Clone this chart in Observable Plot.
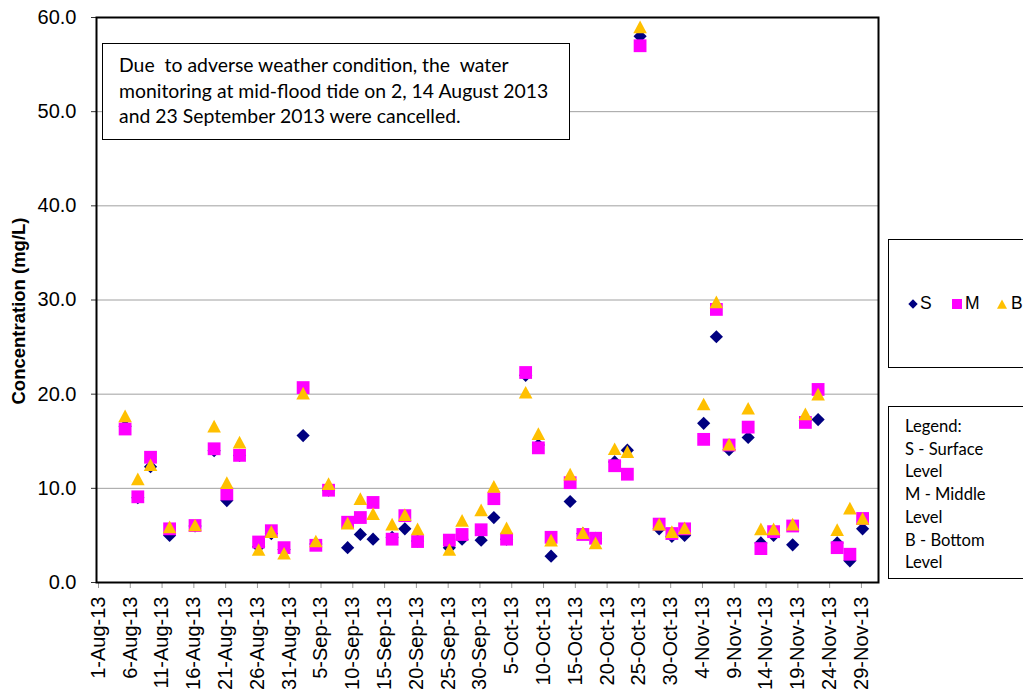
<!DOCTYPE html>
<html>
<head>
<meta charset="utf-8">
<script src="https://cdn.jsdelivr.net/npm/d3@7"></script>
<script src="https://cdn.jsdelivr.net/npm/@observablehq/plot@0.6"></script>
<style>
  html, body { margin: 0; padding: 0; background: #fff; }
  #wrap { position: relative; width: 1023px; height: 698px; overflow: hidden; background: #fff; }
  .box { position: absolute; background: #fff; border: 1.5px solid #000; box-sizing: border-box; }
  .note { font-family: Lato, "Open Sans", sans-serif; font-size: 19.4px; line-height: 25.5px; color: #000; white-space: pre; }
  .leg { position: absolute; font-family: "Liberation Sans", Arial, sans-serif; font-size: 17.5px; color: #000; }
</style>
</head>
<body>
<div id="wrap"></div>
<script>
// ---- data ----
const dates = ["2013-08-05","2013-08-07","2013-08-09","2013-08-12","2013-08-16","2013-08-19","2013-08-21","2013-08-23","2013-08-26","2013-08-28","2013-08-30",
  "2013-09-02","2013-09-04","2013-09-06","2013-09-09","2013-09-11","2013-09-13","2013-09-16","2013-09-18","2013-09-20","2013-09-25","2013-09-27","2013-09-30",
  "2013-10-02","2013-10-04","2013-10-07","2013-10-09","2013-10-11","2013-10-14","2013-10-16","2013-10-18","2013-10-21","2013-10-23","2013-10-25","2013-10-28","2013-10-30",
  "2013-11-01","2013-11-04","2013-11-06","2013-11-08","2013-11-11","2013-11-13","2013-11-15","2013-11-18","2013-11-20","2013-11-22","2013-11-25","2013-11-27","2013-11-29"];
const surface = [16.6, 9.0, 12.3, 5.0, 6.0, 14.0, 8.7, 13.5, 3.8, 5.2, 3.5,
  15.6, 4.1, 9.8, 3.7, 5.1, 4.6, 4.8, 5.7, 4.4, 3.7, 4.6, 4.5,
  6.9, 4.6, 22.0, 14.6, 2.8, 8.6, 5.2, 4.7, 12.8, 14.05, 58.0, 5.7, 4.9,
  5.0, 16.9, 26.1, 14.1, 15.4, 4.2, 5.0, 4.0, 17.2, 17.3, 4.2, 2.3, 5.7];
const middle = [16.3, 9.1, 13.3, 5.7, 6.05, 14.2, 9.4, 13.5, 4.3, 5.5, 3.7,
  20.7, 3.95, 9.8, 6.4, 6.9, 8.5, 4.6, 7.1, 4.35, 4.5, 5.1, 5.6,
  8.9, 4.6, 22.3, 14.3, 4.8, 10.6, 5.1, 4.7, 12.4, 11.5, 57.0, 6.2, 5.2,
  5.7, 15.2, 29.0, 14.6, 16.5, 3.6, 5.4, 6.0, 17.0, 20.5, 3.7, 3.0, 6.8];
const bottom = [17.7, 11.0, 12.5, 5.9, 6.1, 16.6, 10.6, 14.9, 3.5, 5.4, 3.1,
  20.1, 4.4, 10.5, 6.3, 8.9, 7.3, 6.2, 7.2, 5.7, 3.5, 6.6, 7.7,
  10.2, 5.8, 20.2, 15.8, 4.5, 11.5, 5.3, 4.2, 14.2, 13.9, 59.0, 6.2, 5.4,
  5.8, 18.95, 29.8, 14.7, 18.5, 5.7, 5.7, 6.2, 17.9, 20.0, 5.6, 7.9, 6.8];
const xTickLabels = ["1-Aug-13","6-Aug-13","11-Aug-13","16-Aug-13","21-Aug-13","26-Aug-13","31-Aug-13",
  "5-Sep-13","10-Sep-13","15-Sep-13","20-Sep-13","25-Sep-13","30-Sep-13",
  "5-Oct-13","10-Oct-13","15-Oct-13","20-Oct-13","25-Oct-13","30-Oct-13",
  "4-Nov-13","9-Nov-13","14-Nov-13","19-Nov-13","24-Nov-13","29-Nov-13"];
const yTicks = [0, 10, 20, 30, 40, 50, 60];
const seriesNames = ["S", "M", "B"];
const seriesColors = ["#000080", "#FF00FF", "#FFC000"];
const noteLines = ["Due  to adverse weather condition, the  water",
  "monitoring at mid-flood tide on 2, 14 August 2013",
  "and 23 September 2013 were cancelled."];
const legendLines = ["Legend:", "S - Surface", "Level", "M - Middle", "Level", "B - Bottom", "Level"];
const yTitle = "Concentration (mg/L)";

// ---- build ----
const parseISO = d3.utcParse("%Y-%m-%d");
const parseTick = d3.utcParse("%d-%b-%y");
const tickDates = xTickLabels.map(parseTick);
const fmtTick = d3.utcFormat("%-d-%b-%y");
const rows = dates.map((d, i) => ({
  date: new Date(parseISO(d).getTime() + 12 * 3600 * 1000),
  S: surface[i], M: middle[i], B: bottom[i]
}));

const diamond = { draw(ctx) { const h = 6.6; ctx.moveTo(0, -h); ctx.lineTo(h, 0); ctx.lineTo(0, h); ctx.lineTo(-h, 0); ctx.closePath(); } };
const square = { draw(ctx) { const h = 6.4; ctx.moveTo(-h, -h); ctx.lineTo(h, -h); ctx.lineTo(h, h); ctx.lineTo(-h, h); ctx.closePath(); } };
const triangle = { draw(ctx) { ctx.moveTo(0, -6.4); ctx.lineTo(6.8, 6.3); ctx.lineTo(-6.8, 6.3); ctx.closePath(); } };
const symbols = [diamond, square, triangle];
const keys = ["S", "M", "B"];

const chart = Plot.plot({
  width: 1023,
  height: 698,
  marginLeft: 96,
  marginRight: 145,
  marginTop: 17,
  marginBottom: 116,
  style: { fontFamily: "'Liberation Sans', Arial, sans-serif", fontSize: "20px", background: "white", color: "black" },
  x: { type: "utc", domain: [new Date(Date.UTC(2013, 7, 1)), new Date(Date.UTC(2013, 11, 2))] },
  y: { domain: [0, 60] },
  marks: [
    Plot.gridY([10, 20, 30, 40, 50], { stroke: "#a0a0a0", strokeOpacity: 1, strokeWidth: 1 }),
    Plot.axisY({ ticks: yTicks, tickFormat: d => d.toFixed(1), tickSize: 5, tickPadding: 15, fontSize: 20, label: null, stroke: "#333" }),
    Plot.axisX({ ticks: tickDates, tickFormat: fmtTick, tickRotate: -90, tickSize: 6, tickPadding: 8, fontSize: 20, label: null, stroke: "#999", dx: 2 }),
    ...keys.map((k, i) => Plot.dot(rows, { x: "date", y: k, symbol: symbols[i], fill: seriesColors[i], stroke: null, r: 6 })),
    Plot.frame({ stroke: "black", strokeWidth: 2 })
  ]
});

const wrap = document.getElementById("wrap");
wrap.appendChild(chart);

// y-axis title
d3.select(chart).append("text")
  .attr("transform", "translate(18,311) rotate(-90)")
  .attr("text-anchor", "middle")
  .attr("dominant-baseline", "central")
  .attr("font-weight", "bold")
  .attr("font-size", "18.5px")
  .attr("font-family", "'Liberation Sans', Arial, sans-serif")
  .text(yTitle);

// note box
const note = document.createElement("div");
note.className = "box note";
Object.assign(note.style, { left: "102px", top: "43px", width: "468px", height: "97px", padding: "8px 0 0 16px" });
note.textContent = noteLines.join("\n");
wrap.appendChild(note);

// legend box 1 (symbols)
const lb1 = document.createElement("div");
lb1.className = "box";
Object.assign(lb1.style, { left: "888px", top: "239px", width: "200px", height: "129px" });
wrap.appendChild(lb1);
const legX = [[907, 920], [951, 965], [996, 1011]];
keys.forEach((k, i) => {
  const s = document.createElementNS("http://www.w3.org/2000/svg", "svg");
  s.setAttribute("width", 12); s.setAttribute("height", 12);
  s.style.position = "absolute"; s.style.left = (legX[i][0]) + "px"; s.style.top = "298px";
  const p = document.createElementNS("http://www.w3.org/2000/svg", "path");
  const d = i === 0 ? "M6,1.3L10.7,6L6,10.7L1.3,6Z" : i === 1 ? "M1,1H11V11H1Z" : "M6,1.5L11,10.8H1Z";
  p.setAttribute("d", d); p.setAttribute("fill", seriesColors[i]);
  s.appendChild(p); wrap.appendChild(s);
  const t = document.createElement("div");
  t.className = "leg";
  t.style.left = legX[i][1] + "px"; t.style.top = "293px";
  t.textContent = seriesNames[i];
  wrap.appendChild(t);
});

// legend box 2 (text)
const lb2 = document.createElement("div");
lb2.className = "box note";
Object.assign(lb2.style, { left: "888px", top: "406px", width: "200px", height: "173px", padding: "8px 0 0 16px", fontSize: "16.6px", lineHeight: "22.7px" });
lb2.textContent = legendLines.join("\n");
wrap.appendChild(lb2);
</script>
</body>
</html>
